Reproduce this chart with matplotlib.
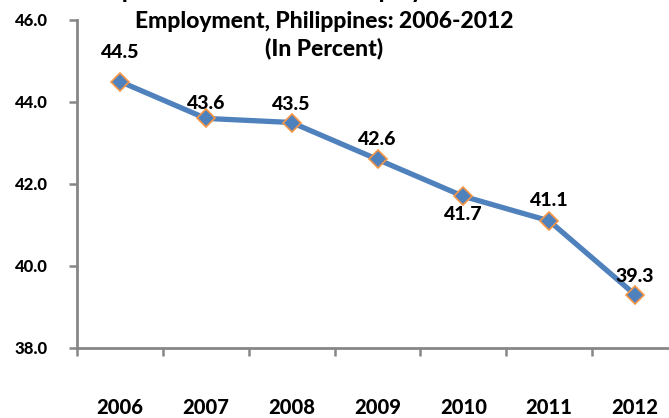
import matplotlib
matplotlib.use("Agg")
import matplotlib.pyplot as plt

years = ["2006", "2007", "2008", "2009", "2010", "2011", "2012"]
values = [44.5, 43.6, 43.5, 42.6, 41.7, 41.1, 39.3]
yticks = [38.0, 40.0, 42.0, 44.0, 46.0]
title_lines = ["Proportion of Vulnerable Employment to Total",
               "Employment, Philippines: 2006-2012",
               "(In Percent)"]

plt.rcParams['font.family'] = ['Lato', 'DejaVu Sans']
W = 'black'

fig = plt.figure(figsize=(6.69, 4.18), dpi=100)
ax = fig.add_axes([77/669, 1-348/418, (678-77)/669, (348-20)/418])

x = list(range(len(years)))
ax.plot(x, values, color='#4F81BD', lw=3.8, marker='D', ms=9.5,
        markerfacecolor='#4F81BD', markeredgecolor='#F79646', markeredgewidth=1.2,
        zorder=3, clip_on=False)

offsets = [(0, 21), (0, 11), (0, 13), (0, 14), (0, -13), (0, 15), (0, 13)]
for xi, v, off in zip(x, values, offsets):
    ax.annotate(f"{v:.1f}", (xi, v), xytext=off, textcoords='offset points',
                ha='center', va='center', fontsize=14, fontweight=W,
                color='black', zorder=4)

ax.set_xlim(-0.5, len(years) - 0.5)
ax.set_ylim(38, 46)
ax.set_yticks(yticks)
ax.set_yticklabels([f"{t:.1f}" for t in yticks], fontsize=12, fontweight=W)
ax.set_xticks(x)
ax.set_xticklabels(years, fontsize=14.5, fontweight=W)
ax.set_xticks([i - 0.5 for i in range(len(years) + 1)], minor=True)
ax.tick_params(axis='x', which='major', length=0, pad=36)
ax.tick_params(axis='x', which='minor', length=6, width=1.8, color='#868686')
ax.tick_params(axis='y', length=6, width=1.8, color='#868686', pad=15)

for s in ['top', 'right']:
    ax.spines[s].set_visible(False)
for s in ['left', 'bottom']:
    ax.spines[s].set_color('#868686')
    ax.spines[s].set_linewidth(2)

ys = [1 + 8/418, 1 - 21/418, 1 - 48/418]
for t, yy in zip(title_lines, ys):
    fig.text(324/669, yy, t, ha='center', va='center', fontsize=16.5, fontweight=W)

fig.savefig("out.png", dpi=100)
